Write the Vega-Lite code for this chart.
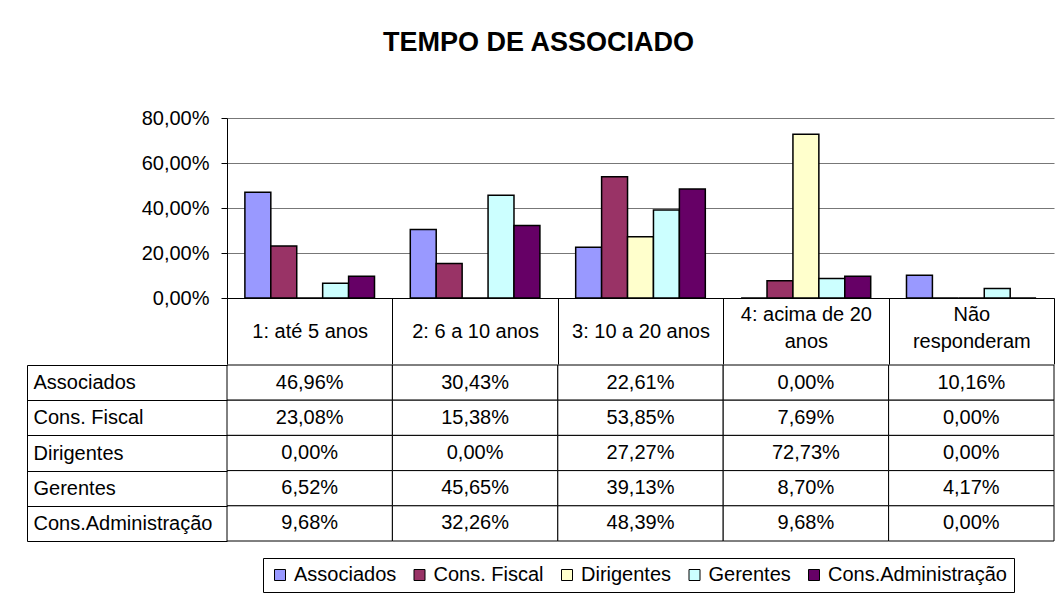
{
  "$schema": "https://vega.github.io/schema/vega-lite/v6.json",
  "padding": {"left": 26, "top": 29, "right": 2, "bottom": 0},
  "background": "white",
  "spacing": -12,
  "config": {
    "font": "Liberation Sans",
    "locale": {"number": {"decimal": ",", "thousands": ".", "grouping": [3], "currency": ["R$", ""]}},
    "view": {"stroke": null},
    "axis": {"labelColor": "black", "domainColor": "black", "tickColor": "black", "labelFont": "Liberation Sans"}
  },
  "title": {"text": "TEMPO DE ASSOCIADO", "fontSize": 27, "fontWeight": "bold", "anchor": "middle", "frame": "bounds", "offset": 51, "dx": -2, "color": "black", "font": "Liberation Sans"},
  "data": {"values": [
    {"cat": "1: até 5 anos", "serie": "Associados", "v": 0.4696},
    {"cat": "1: até 5 anos", "serie": "Cons. Fiscal", "v": 0.2308},
    {"cat": "1: até 5 anos", "serie": "Dirigentes", "v": 0.0},
    {"cat": "1: até 5 anos", "serie": "Gerentes", "v": 0.0652},
    {"cat": "1: até 5 anos", "serie": "Cons.Administração", "v": 0.0968},
    {"cat": "2: 6 a 10 anos", "serie": "Associados", "v": 0.3043},
    {"cat": "2: 6 a 10 anos", "serie": "Cons. Fiscal", "v": 0.1538},
    {"cat": "2: 6 a 10 anos", "serie": "Dirigentes", "v": 0.0},
    {"cat": "2: 6 a 10 anos", "serie": "Gerentes", "v": 0.4565},
    {"cat": "2: 6 a 10 anos", "serie": "Cons.Administração", "v": 0.3226},
    {"cat": "3: 10 a 20 anos", "serie": "Associados", "v": 0.2261},
    {"cat": "3: 10 a 20 anos", "serie": "Cons. Fiscal", "v": 0.5385},
    {"cat": "3: 10 a 20 anos", "serie": "Dirigentes", "v": 0.2727},
    {"cat": "3: 10 a 20 anos", "serie": "Gerentes", "v": 0.3913},
    {"cat": "3: 10 a 20 anos", "serie": "Cons.Administração", "v": 0.4839},
    {"cat": "4: acima de 20 anos", "serie": "Associados", "v": 0.0},
    {"cat": "4: acima de 20 anos", "serie": "Cons. Fiscal", "v": 0.0769},
    {"cat": "4: acima de 20 anos", "serie": "Dirigentes", "v": 0.7273},
    {"cat": "4: acima de 20 anos", "serie": "Gerentes", "v": 0.087},
    {"cat": "4: acima de 20 anos", "serie": "Cons.Administração", "v": 0.0968},
    {"cat": "Não responderam", "serie": "Associados", "v": 0.1016},
    {"cat": "Não responderam", "serie": "Cons. Fiscal", "v": 0.0},
    {"cat": "Não responderam", "serie": "Dirigentes", "v": 0.0},
    {"cat": "Não responderam", "serie": "Gerentes", "v": 0.0417},
    {"cat": "Não responderam", "serie": "Cons.Administração", "v": 0.0}
  ]},
  "vconcat": [
    {
      "width": 827,
      "height": 180,
      "mark": {"type": "bar", "stroke": "black", "strokeWidth": 1.5},
      "encoding": {
        "x": {
          "field": "cat", "type": "nominal", "sort": null,
          "scale": {"paddingInner": 0, "paddingOuter": 0},
          "axis": {
            "title": null, "labelAngle": 0, "tickBand": "extent", "tickSize": 66,
            "labelPadding": {"condition": {"test": "datum.value == '4: acima de 20 anos' || datum.value == 'Não responderam'", "value": -50}, "value": -33},
            "labelBaseline": "middle", "labelFontSize": 20,
            "labelLineHeight": 27, "labelLimit": 0,
            "labelExpr": "datum.label == '4: acima de 20 anos' ? ['4: acima de 20', 'anos'] : datum.label == 'Não responderam' ? ['Não', 'responderam'] : datum.label"
          }
        },
        "xOffset": {"field": "serie", "type": "nominal", "sort": ["Associados", "Cons. Fiscal", "Dirigentes", "Gerentes", "Cons.Administração"], "scale": {"paddingInner": 0, "paddingOuter": 0.69}},
        "y": {
          "field": "v", "type": "quantitative",
          "scale": {"domain": [0, 0.8]},
          "axis": {"title": null, "format": ".2%", "values": [0, 0.2, 0.4, 0.6, 0.8], "labelFontSize": 20, "tickSize": 6, "labelPadding": 12, "gridColor": "#777777", "gridOpacity": 1}
        },
        "color": {
          "field": "serie", "type": "nominal",
          "scale": {"domain": ["Associados", "Cons. Fiscal", "Dirigentes", "Gerentes", "Cons.Administração"], "range": ["#9999FF", "#993366", "#FFFFCC", "#CCFFFF", "#660066"]},
          "legend": {
            "title": null, "orient": "none", "legendX": 36, "legendY": 440,
            "direction": "horizontal", "columns": 5, "symbolType": "square", "symbolSize": 121,
            "symbolStrokeColor": "black", "symbolStrokeWidth": 1, "labelFontSize": 20, "labelColor": "black",
            "labelFont": "Liberation Sans", "strokeColor": "black", "fillColor": "white", "padding": 7,
            "columnPadding": 12.5, "labelOffset": 4, "labelLimit": 0
          }
        }
      }
    },
    {
      "width": 827,
      "height": 176,
      "encoding": {
        "x": {"field": "cat", "type": "nominal", "sort": null, "scale": {"paddingInner": 0, "paddingOuter": 0}, "axis": null},
        "y": {
          "field": "serie", "type": "nominal",
          "sort": ["Associados", "Cons. Fiscal", "Dirigentes", "Gerentes", "Cons.Administração"],
          "scale": {"paddingInner": 0, "paddingOuter": 0},
          "axis": {"title": null, "offset": 200, "tickSize": -200, "tickBand": "extent", "labelAlign": "left", "labelPadding": 194, "labelFontSize": 20, "labelBaseline": "middle", "labelLimit": 0, "domain": true}
        }
      },
      "layer": [
        {"mark": {"type": "rect", "fill": "white", "stroke": "black", "strokeWidth": 1}},
        {"mark": {"type": "text", "fontSize": 20, "color": "black"}, "encoding": {"text": {"field": "v", "type": "quantitative", "format": ".2%"}}}
      ]
    }
  ]
}
